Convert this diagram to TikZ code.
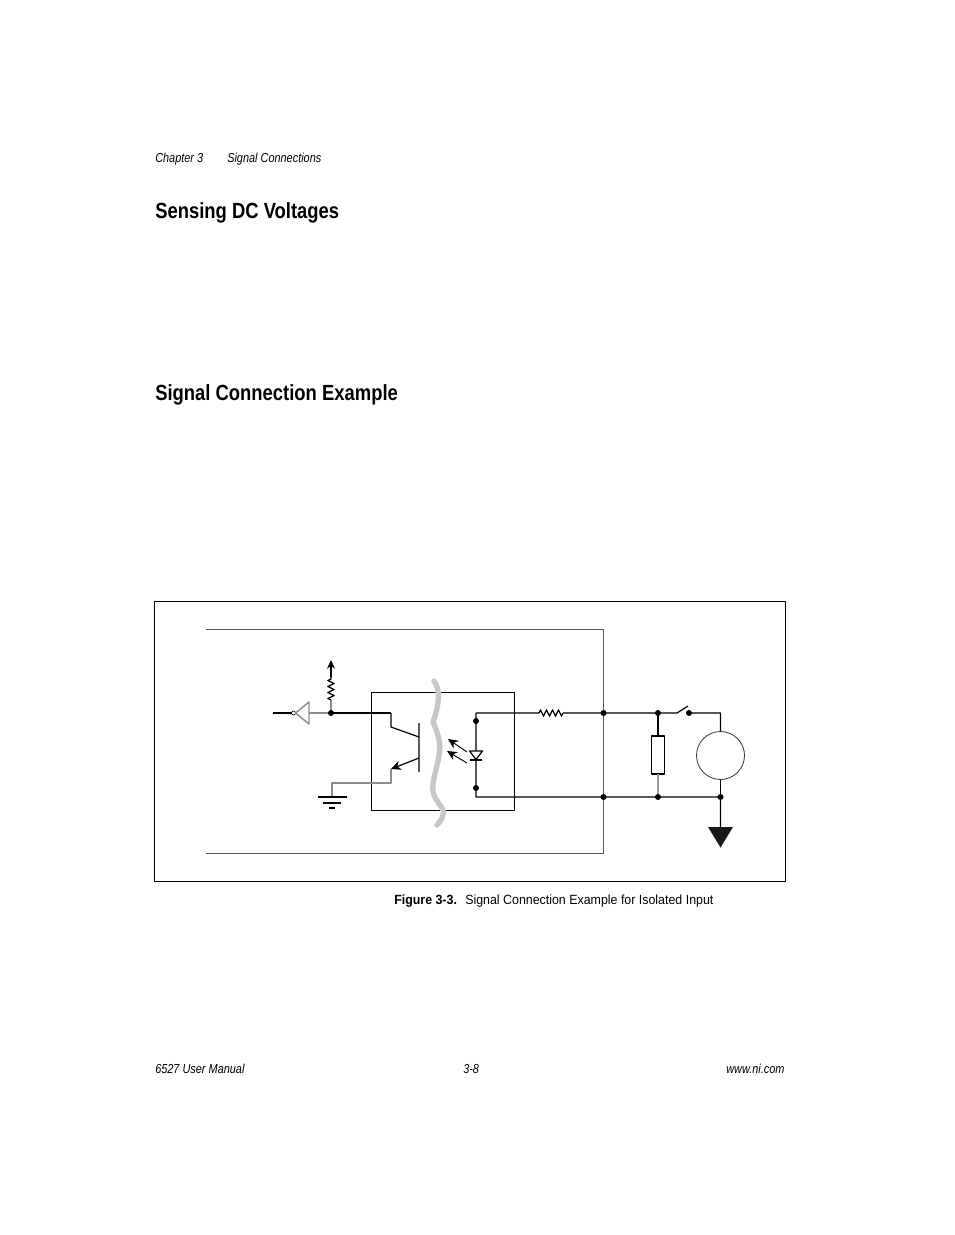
\documentclass[tikz,border=0pt]{standalone}
\usepackage{fontspec}
\setmainfont[FakeStretch=0.84]{Liberation Sans}
\newfontfamily\capfont[FakeStretch=0.93]{Liberation Sans}
\usetikzlibrary{decorations.pathmorphing,arrows.meta}
\tikzset{
	txt/.style={anchor=base west,inner sep=0pt,font=\capfont\fontsize{10}{12}\selectfont},
	ital/.style={anchor=base west,inner sep=0pt,font=\fontsize{9.75}{12}\selectfont\itshape},
	head/.style={anchor=base west,inner sep=0pt,font=\fontsize{16.45}{19}\selectfont\bfseries},
	wire/.style={line width=0.9pt},
	greywire/.style={line width=1.1pt,draw=black!45},
	resistor/.style={wire,decorate,decoration={zigzag,segment length=4.5pt,amplitude=2.4pt}},
	ray/.style={line width=0.7pt,-{Stealth[length=7.5pt,width=7pt]}}
}
\begin{document}
\begin{tikzpicture}[x=0.75pt,y=-0.75pt,line join=round,>=stealth]
		\useasboundingbox (0,0) rectangle (954,1235);
		\path
		(154.5,601.5) coordinate (FA)
		(785.5,881.5) coordinate (FB)
		(206,629.5) coordinate (PA)
		(603.5,629.5) coordinate (PB)
		(603.5,853.5) coordinate (PC)
		(206,853.5) coordinate (PD)
		(371.5,692.5) coordinate (OA)
		(514.5,810.5) coordinate (OB)
		(273,713) coordinate (In)
		(291.5,713) coordinate (BubL)
		(295.5,713) coordinate (BubR)
		(309,702) coordinate (InvA)
		(309,724) coordinate (InvB)
		(309,713) coordinate (InvC)
		(331,713) coordinate (J)
		(331,700) coordinate (RA)
		(331,677) coordinate (RB)
		(331,660) coordinate (Vcc)
		(391,713) coordinate (CA)
		(391,727) coordinate (CB)
		(419,737) coordinate (CC)
		(419,723) coordinate (BA)
		(419,772) coordinate (BB)
		(419,758) coordinate (EA)
		(391,769) coordinate (EB)
		(391,783) coordinate (EC)
		(332,783) coordinate (ED)
		(332,797) coordinate (G)
		(476,713) coordinate (LA)
		(476,721) coordinate (LB)
		(476,788) coordinate (LC)
		(476,797) coordinate (LD)
		(539,713) coordinate (SA)
		(563,713) coordinate (SB)
		(603.5,713) coordinate (TA)
		(603.5,797) coordinate (TB)
		(658,713) coordinate (UA)
		(658,797) coordinate (UB)
		(658,736) coordinate (UC)
		(658,774) coordinate (UD)
		(651.5,736) coordinate (UE)
		(664.5,774) coordinate (UF)
		(677,713) coordinate (WA)
		(688,706) coordinate (WB)
		(689,713) coordinate (WC)
		(720.5,713) coordinate (WD)
		(720.5,797) coordinate (WE)
		(720.5,827) coordinate (WF)
		(720.5,755.5) coordinate (Src)
		;
		% page text
		\node[ital] (chap) at (155,162) {Chapter 3};
		\node[ital] (sect) at (227,162) {Signal Connections};
		\node[head] (hone) at (155,218) {Sensing DC Voltages};
		\node[head] (htwo) at (155,400) {Signal Connection Example};
		\node[txt] (cap) at (465,904) {Signal Connection Example for Isolated Input};
		\node[txt,font=\capfont\fontsize{10}{12}\selectfont\bfseries] (fig) at (394,904) {Figure 3-3.};
		\node[ital] (man) at (155,1073) {6527 User Manual};
		\node[ital] (pg) at (463,1073) {3-8};
		\node[ital] (web) at (726,1073) {www.ni.com};
		% frames
		\draw[wire] (FA) rectangle (FB);
		\draw[line width=0.8pt,draw=black!65] (PA)--(PB)--(PC)--(PD);
		\draw[wire] (OA) rectangle (OB);
		% isolation barrier
		\draw[line width=4pt,draw=black!22,line cap=round] (434,681) .. controls (441,690) and (439,705) .. (433,722)
		.. controls (439,735) and (441,745) .. (439,755) .. controls (437,770) and (430,785) .. (434,795)
		.. controls (438,805) and (445,808) .. (443,815) .. controls (442,820) and (439,822) .. (437,825);
		% inverter and pull up
		\draw[wire] (In)--(BubL);
		\draw[line width=0.5pt] (293.5,713) circle (2);
		\draw[greywire] (BubR)--(InvA)--(InvB)--cycle;
		\draw[greywire] (InvC)--(J);
		\draw[wire] (J)--(CA);
		\draw[greywire] (J)--(RA);
		\draw[resistor] (RA)--(RB);
		\draw[wire,-{Stealth[length=6.5pt,width=6pt]}] (RB)--(Vcc);
		% transistor
		\draw[wire] (CA)--(CB)--(CC) (BA)--(BB);
		\draw[wire,-{Stealth[length=7.5pt,width=7pt]}] (EA)--(EB);
		\draw[greywire] (EB)--(EC)--(ED)--(G);
		\draw[wire] (318,797)--(347,797) (323,803)--(341,803) (329,808)--(335,808);
		% led
		\draw[wire] (SB)--(TA)--(UA)--(WA)--(WB) (LA)--(SA) (LA)--(LD)--(TB)--(UB)--(WE)--(WF) (WC)--(WD)--(Src);
		\draw[resistor] (SA)--(SB);
		\draw[wire,fill=white] (469.5,751)--(482.5,751)--(476,759.5)--cycle;
		\draw[wire] (470,760)--(482,760);
		\draw[ray] (467,752)--(448,739);
		\draw[ray] (467,763)--(447,751);
		% load and source
		\draw[wire] (UA)--(UC);
		\draw[wire,fill=white] (UE) rectangle (UF);
		\draw[line width=1.1pt,draw=black!40] (UD)--(UB);
		\draw[line width=0.6pt,draw=black!80,fill=white] (Src) circle (24);
		\draw[wire] (720.5,779.5)--(WE);
		\fill[black!90] (708,827)--(733,827)--(720.5,847.5)--cycle;
		\foreach \x in {J,LB,LC,TA,TB,UA,UB,WC,WE}
		\fill[black] (\x) circle (3);
\end{tikzpicture}
\end{document}
